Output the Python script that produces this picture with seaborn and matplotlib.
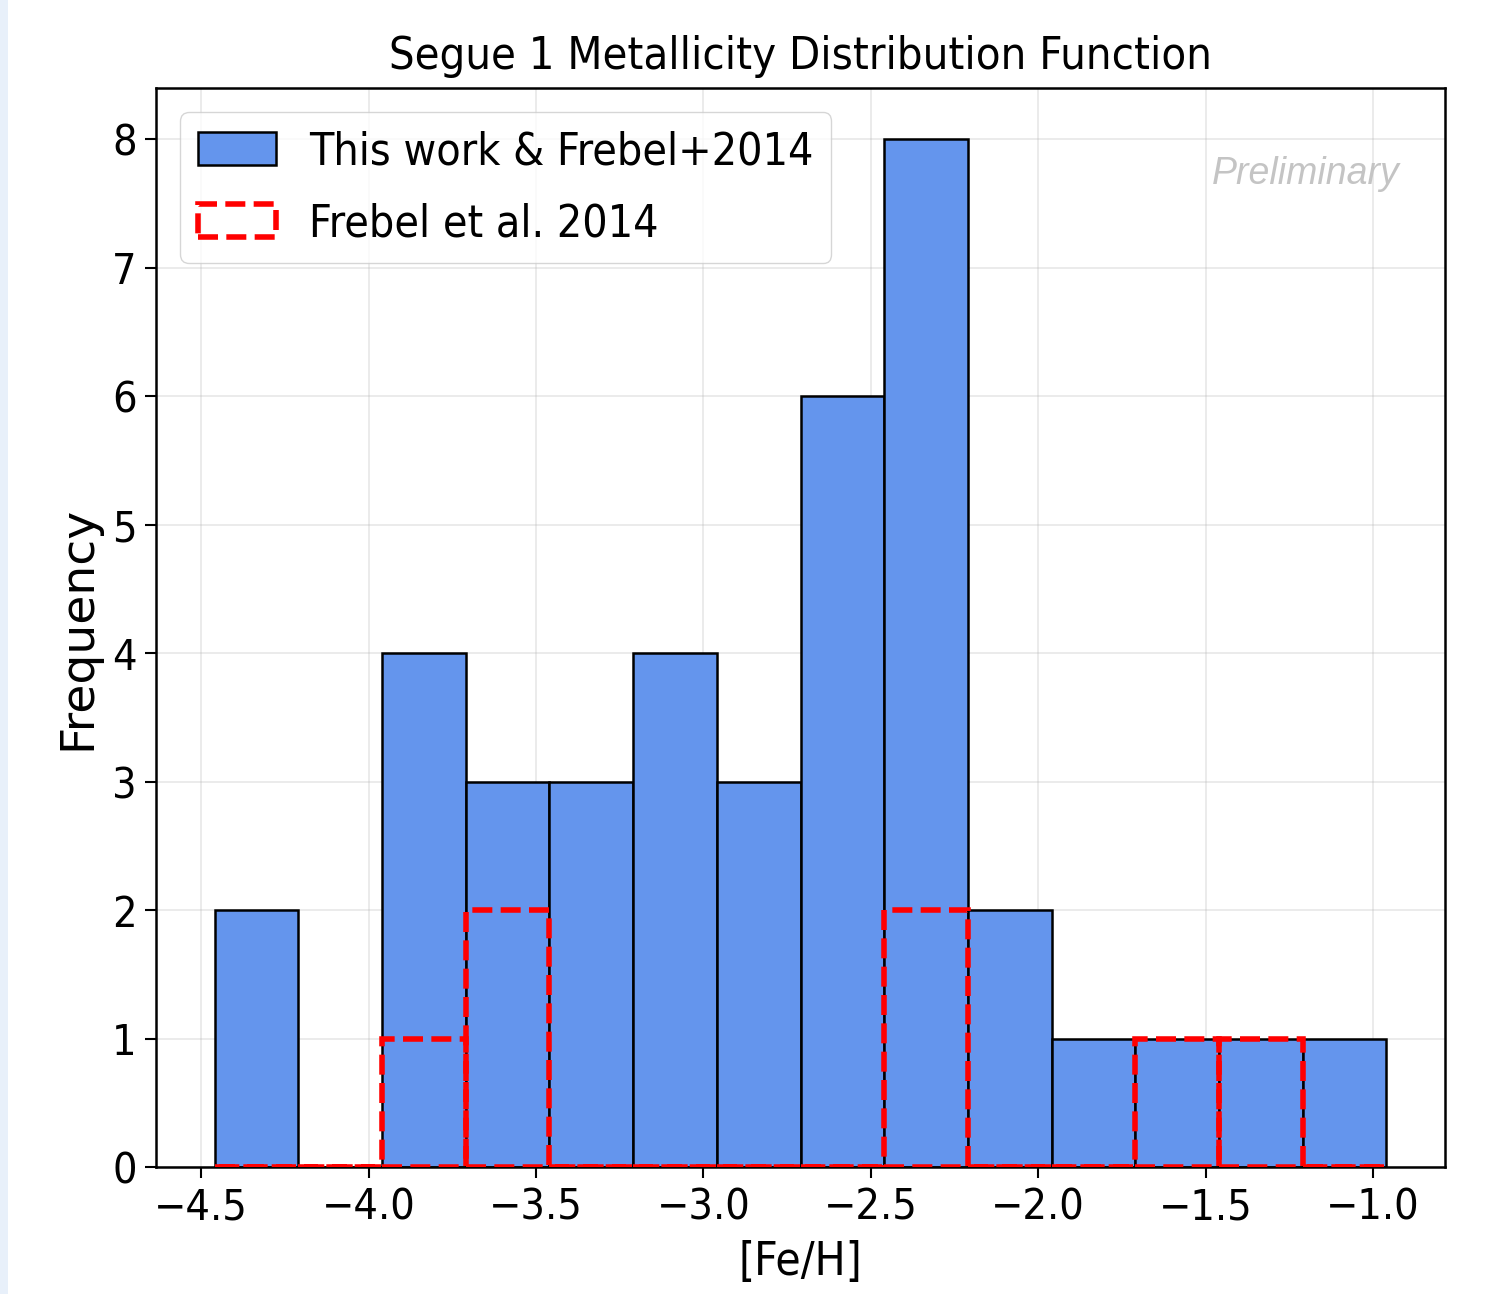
import numpy as np
import pandas as pd
import matplotlib
matplotlib.use("Agg")
import matplotlib.pyplot as plt
from matplotlib import font_manager as fm
from matplotlib.patches import Patch, Rectangle
import seaborn as sns

# ---- data ----
bin_edges = [-4.46, -4.21, -3.96, -3.71, -3.46, -3.21, -2.96, -2.71,
             -2.46, -2.21, -1.96, -1.71, -1.46, -1.21, -0.96]
counts_all = [2, 0, 4, 3, 3, 4, 3, 6, 8, 2, 1, 1, 1, 1]
counts_frebel = [0, 0, 1, 2, 0, 0, 0, 0, 2, 0, 0, 1, 1, 0]
label_all = "This work & Frebel+2014"
label_frebel = "Frebel et al. 2014"
title = "Segue 1 Metallicity Distribution Function"
xlabel = "[Fe/H]"
ylabel = "Frequency"
watermark = "Preliminary"

edges = np.array(bin_edges)
centers = (edges[:-1] + edges[1:]) / 2
df = pd.DataFrame({"feh": centers, "all": counts_all, "frebel": counts_frebel})

sns.set_style("ticks")
for k in ["text.color", "axes.labelcolor", "xtick.color", "ytick.color",
          "axes.edgecolor"]:
    plt.rcParams[k] = "black"

# font: prefer condensed DejaVu (reference text is horizontally narrow)
cond = [f for f in fm.fontManager.ttflist
        if "DejaVuSansCondensed.ttf" in f.fname]
if cond:
    plt.rcParams["font.family"] = [cond[0].name, "DejaVu Sans"]
    plt.rcParams["font.stretch"] = cond[0].stretch
else:
    plt.rcParams["font.family"] = ["DejaVu Sans"]

RED_LS = (0, (3.6, 1.5))
RED_LW = 4.0

fig = plt.figure(figsize=(14.85, 12.94), dpi=100)
fig.patches.append(Rectangle((0, 0), 8 / 1485, 1, transform=fig.transFigure,
                             facecolor="#e8f0fa", edgecolor="none", zorder=-10))
ax = fig.add_axes([156 / 1485, 1 - 1167 / 1294, 1289 / 1485, 1079 / 1294])

ax.grid(True, color="#b0b0b0", alpha=0.3, linewidth=1.2, zorder=0)
ax.set_axisbelow(True)

sns.histplot(data=df, x="feh", weights="all", bins=list(bin_edges), ax=ax,
             color="cornflowerblue", edgecolor="black", linewidth=1.8,
             alpha=1.0, zorder=2)
n_before = len(ax.patches)
sns.histplot(data=df, x="feh", weights="frebel", bins=list(bin_edges), ax=ax,
             fill=False, color="red", linewidth=RED_LW, linestyle=RED_LS,
             zorder=3)
for p in ax.patches[n_before:]:
    p.set_edgecolor("red")
    p.set_linewidth(RED_LW)
    p.set_linestyle(RED_LS)
    p.set_zorder(3)

ax.set_title(title, fontsize=32.5, pad=14)
ax.set_xlabel(xlabel, fontsize=33, labelpad=8)
ax.set_ylabel(ylabel, fontsize=34, family="DejaVu Sans", fontstretch="normal")
ax.yaxis.set_label_coords(-0.043, 0.5)
ax.tick_params(axis="both", labelsize=31, length=8, width=1.5, pad=6,
               color="black", labelcolor="black")
ax.set_yticks(range(0, 9))
for s in ax.spines.values():
    s.set_linewidth(1.8)
    s.set_color("black")

handles = [Patch(facecolor="cornflowerblue", edgecolor="black", linewidth=1.8),
           Patch(facecolor="none", edgecolor="red", linewidth=RED_LW,
                 linestyle=RED_LS)]
ax.legend(handles, [label_all, label_frebel], loc="upper left",
          fontsize=32, frameon=True, framealpha=0.8, edgecolor="#cccccc",
          fancybox=True, borderaxespad=0.55, handlelength=1.75,
          handleheight=0.75, labelspacing=0.65, handletextpad=0.75)

ax.text(0.965, 0.92, watermark, transform=ax.transAxes, ha="right",
        va="center", fontsize=27, style="italic", color="#c4c4c4",
        family=["Liberation Sans", "DejaVu Sans"], fontstretch="normal")

fig.savefig("out.png", dpi=100)
